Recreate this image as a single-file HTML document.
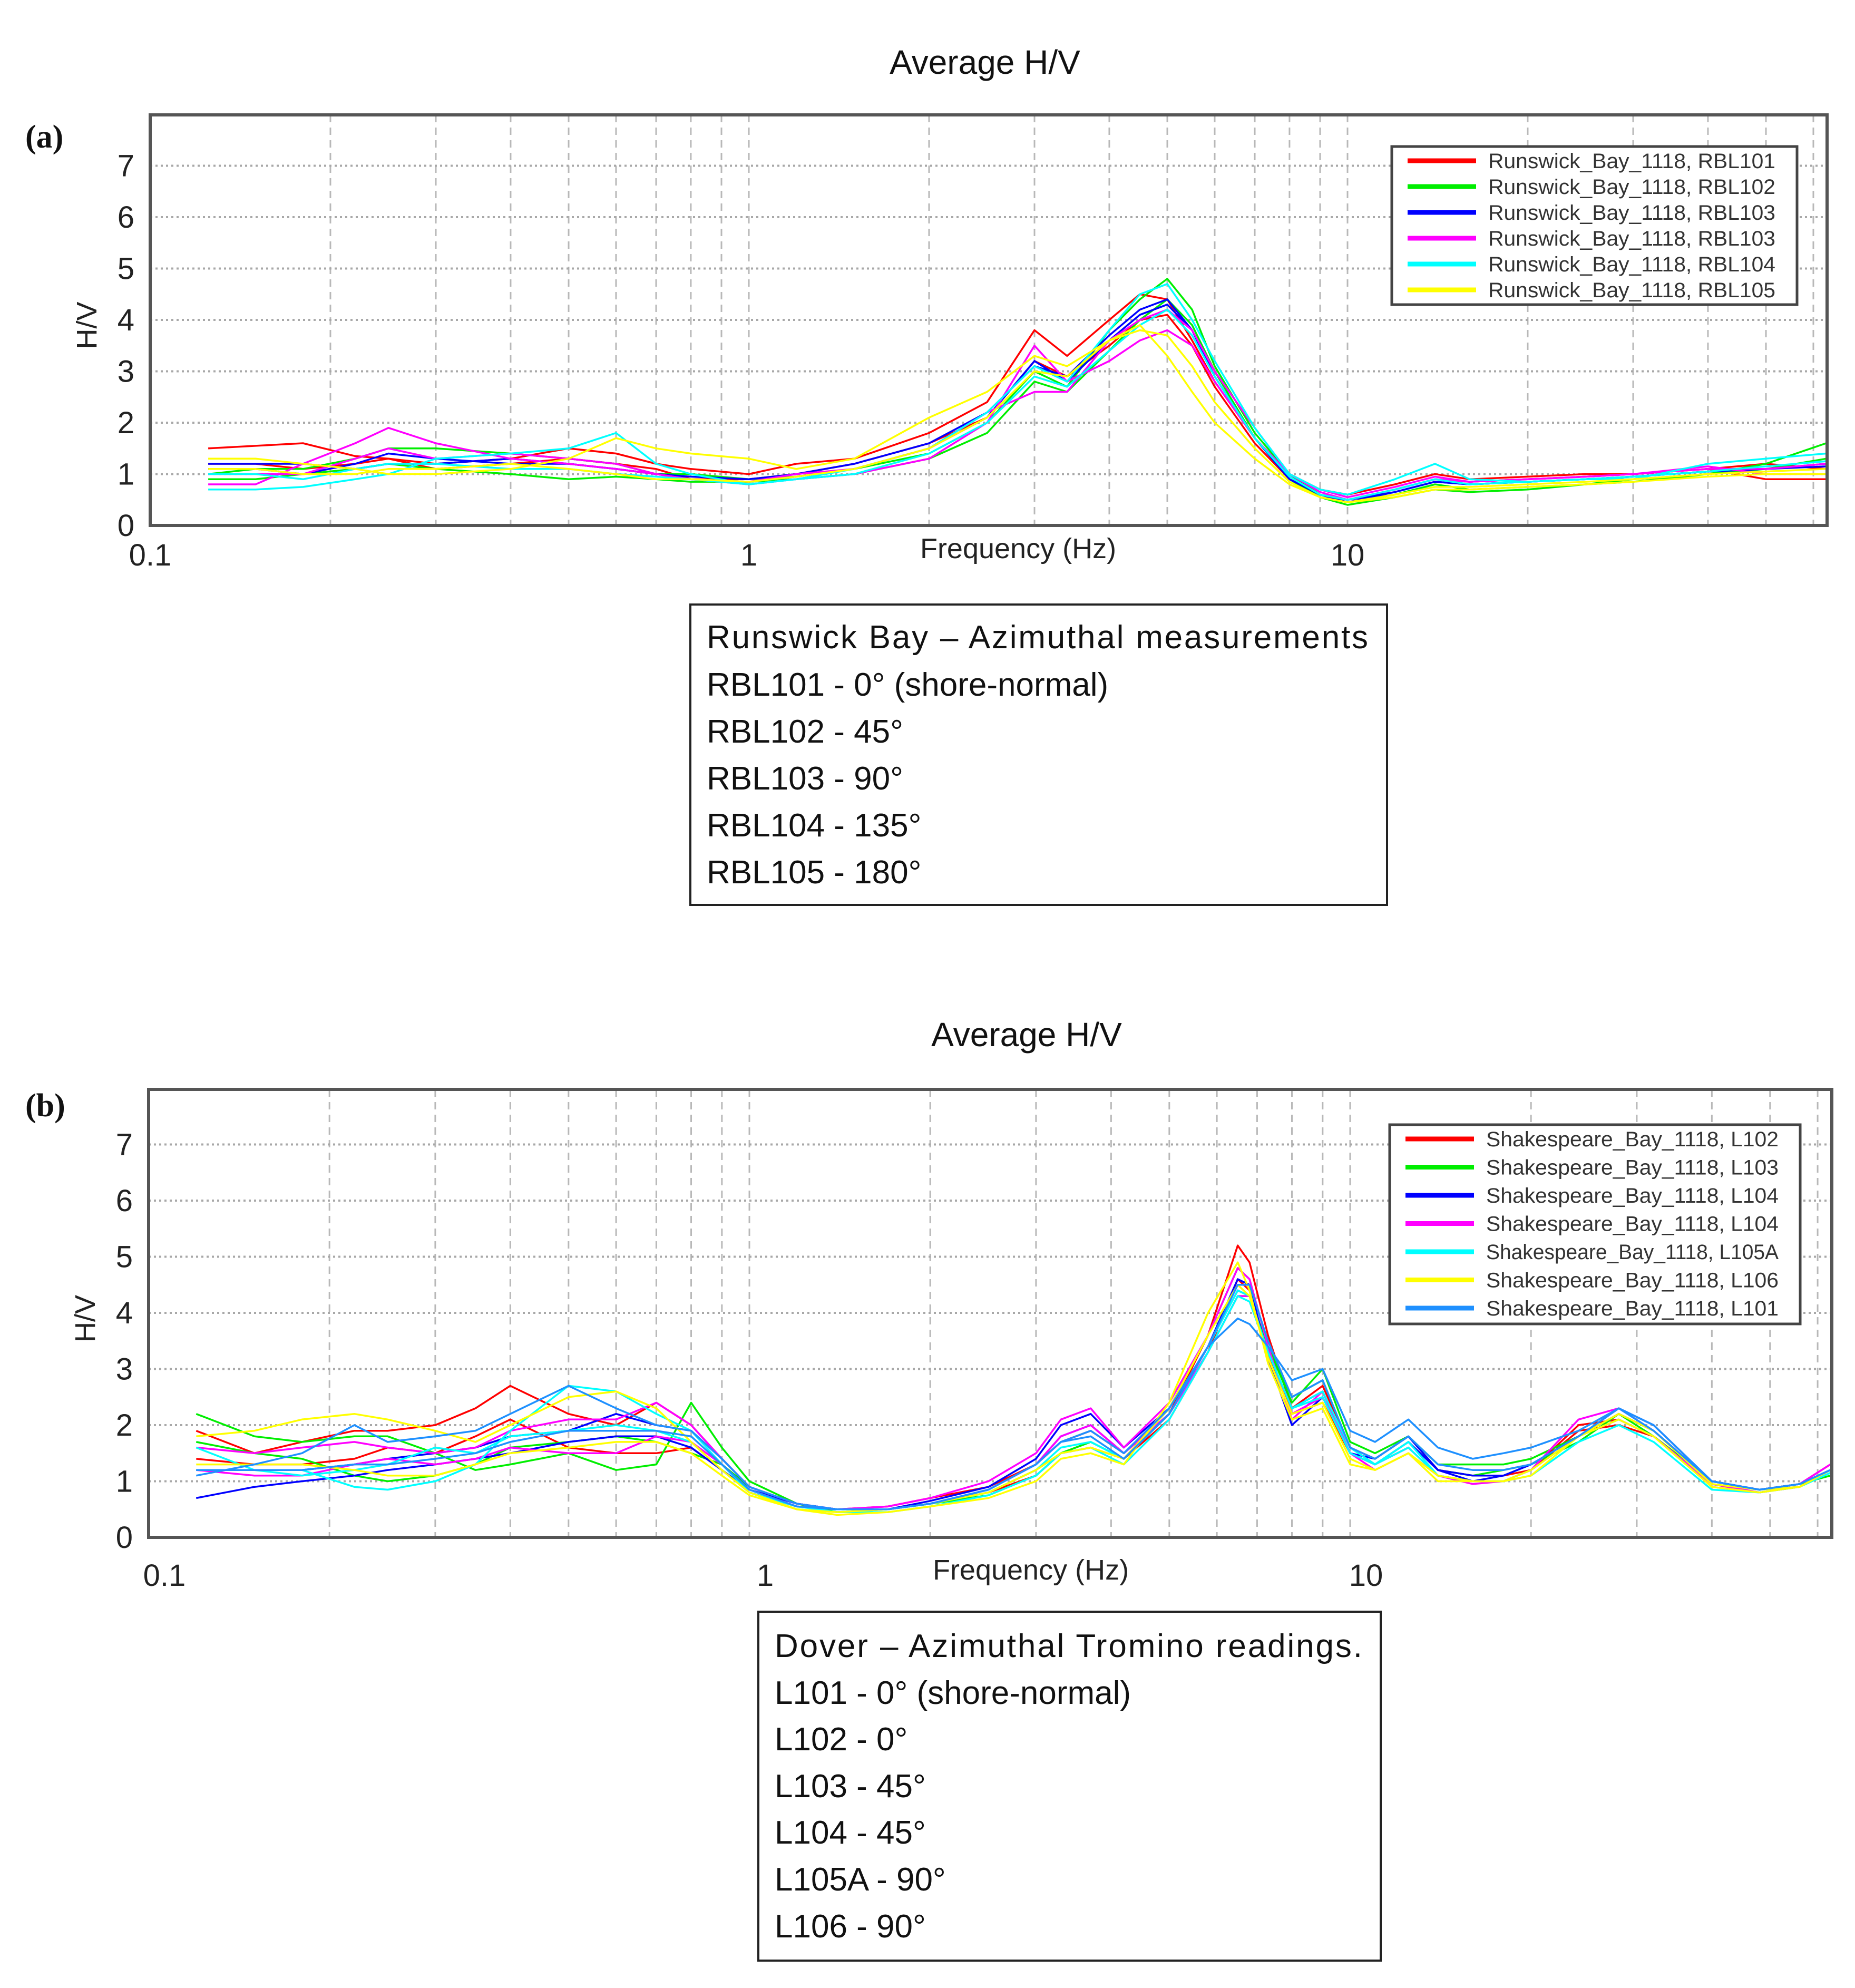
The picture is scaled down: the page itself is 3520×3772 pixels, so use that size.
<!DOCTYPE html>
<html><head><meta charset="utf-8"><title>Average H/V</title>
<style>
html,body{margin:0;padding:0;background:#fff;}
svg{display:block;font-family:"Liberation Sans",sans-serif;}
</style></head>
<body>
<svg id="fig" width="3520" height="3772" viewBox="0 0 3520 3772" xmlns="http://www.w3.org/2000/svg">
<rect x="0" y="0" width="3520" height="3772" fill="#fff"/>
<text x="1869" y="140" font-size="64" text-anchor="middle" fill="#111">Average H/V</text>
<text x="1948" y="1985" font-size="64" text-anchor="middle" fill="#111">Average H/V</text>
<text x="48" y="280" font-size="62" font-weight="bold" font-family="Liberation Serif,serif" fill="#111">(a)</text>
<text x="48" y="2118" font-size="62" font-weight="bold" font-family="Liberation Serif,serif" fill="#111">(b)</text>
<g id="pa"></g>
<g id="pb"></g>
<g>
<rect x="1310" y="1147" width="1322" height="570" fill="#fff" stroke="#222" stroke-width="4"/>
<text font-size="62" fill="#111">
<tspan x="1341" y="1230" textLength="1255">Runswick Bay – Azimuthal measurements</tspan>
<tspan x="1341" y="1320">RBL101 - 0° (shore-normal)</tspan>
<tspan x="1341" y="1409">RBL102 - 45°</tspan>
<tspan x="1341" y="1498">RBL103 - 90°</tspan>
<tspan x="1341" y="1587">RBL104 - 135°</tspan>
<tspan x="1341" y="1676">RBL105 - 180°</tspan>
</text></g>
<g>
<rect x="1439" y="3058" width="1181" height="662" fill="#fff" stroke="#222" stroke-width="4"/>
<text font-size="62" fill="#111">
<tspan x="1470" y="3144" textLength="1115">Dover – Azimuthal Tromino readings.</tspan>
<tspan x="1470" y="3233">L101 - 0° (shore-normal)</tspan>
<tspan x="1470" y="3321">L102 - 0°</tspan>
<tspan x="1470" y="3410">L103 - 45°</tspan>
<tspan x="1470" y="3498">L104 - 45°</tspan>
<tspan x="1470" y="3587">L105A - 90°</tspan>
<tspan x="1470" y="3676">L106 - 90°</tspan>
</text></g>
</svg>
<script>
const freqA = [0.125,0.15,0.18,0.22,0.25,0.3,0.4,0.5,0.6,0.7,0.8,1,1.2,1.5,2,2.5,3,3.4,4,4.5,5,5.5,6,7,8,9,10,12,14,16,20,25,30,40,50,63];
const colorsA = ['#ff0000','#ff0000','#00ee00','#00ee00','#0000ff','#0000ff','#ff00ff','#ff00ff','#00ffff','#00ffff','#ffff00','#ffff00'];
const serA0 = [1.5,1.55,1.6,1.35,1.3,1.2,1.3,1.5,1.4,1.2,1.1,1.0,1.2,1.3,1.8,2.4,3.8,3.3,4.0,4.5,4.4,3.6,2.8,1.7,1.0,0.7,0.6,0.8,1.0,0.9,0.95,1.0,1.0,1.1,0.9,0.9];
const serA1 = [1.2,1.2,1.1,1.2,1.3,1.1,1.2,1.3,1.2,1.1,0.9,0.9,1.0,1.2,1.6,2.1,3.2,2.9,3.5,4.0,4.1,3.5,2.7,1.6,0.9,0.6,0.5,0.7,0.9,0.85,0.9,0.95,1.0,1.1,1.2,1.1];
const serA2 = [1.0,1.1,1.1,1.3,1.5,1.5,1.4,1.3,1.2,1.0,1.0,0.9,0.95,1.1,1.4,2.0,3.0,2.7,3.8,4.4,4.8,4.2,3.1,1.8,1.0,0.6,0.45,0.6,0.8,0.7,0.75,0.8,0.9,1.0,1.2,1.6];
const serA3 = [0.9,0.9,1.0,1.1,1.2,1.1,1.0,0.9,0.95,0.9,0.85,0.85,0.9,1.0,1.3,1.8,2.8,2.6,3.4,4.0,4.4,3.9,3.0,1.7,0.9,0.55,0.4,0.55,0.7,0.65,0.7,0.8,0.85,1.0,1.1,1.3];
const serA4 = [1.1,1.1,1.0,1.2,1.4,1.3,1.2,1.2,1.1,1.0,0.9,0.85,0.95,1.1,1.5,2.1,3.2,2.8,3.6,4.1,4.3,3.8,2.9,1.7,0.9,0.6,0.45,0.65,0.85,0.8,0.85,0.9,0.95,1.05,1.1,1.2];
const serA5 = [1.2,1.2,1.2,1.1,1.2,1.2,1.3,1.2,1.1,1.0,0.95,0.9,1.0,1.2,1.6,2.2,3.1,2.9,3.7,4.2,4.4,3.8,2.9,1.7,0.95,0.6,0.5,0.65,0.85,0.8,0.85,0.9,0.95,1.05,1.1,1.15];
const serA6 = [0.8,0.8,1.2,1.6,1.9,1.6,1.3,1.2,1.1,1.0,0.9,0.8,0.9,1.0,1.3,2.0,3.5,2.8,3.2,3.6,3.8,3.5,2.8,1.7,1.0,0.7,0.55,0.75,0.95,0.85,0.9,0.95,1.0,1.1,1.1,1.2];
const serA7 = [1.0,1.0,1.0,1.3,1.5,1.3,1.4,1.3,1.2,1.0,0.9,0.85,1.0,1.1,1.5,2.2,2.6,2.6,3.6,4.0,4.2,3.8,3.0,1.9,1.0,0.65,0.5,0.7,0.9,0.85,0.9,0.95,1.0,1.15,1.0,1.0];
const serA8 = [0.7,0.7,0.75,0.9,1.0,1.3,1.4,1.5,1.8,1.2,1.0,0.8,0.9,1.1,1.5,2.2,3.1,2.8,3.8,4.5,4.7,4.0,3.2,1.9,1.0,0.7,0.6,0.9,1.2,0.9,0.85,0.9,0.9,1.2,1.3,1.4];
const serA9 = [1.0,1.0,0.9,1.1,1.2,1.2,1.1,1.1,1.0,0.95,0.9,0.8,0.9,1.0,1.4,2.0,2.9,2.7,3.4,3.9,4.2,3.7,2.9,1.7,0.95,0.6,0.5,0.7,0.9,0.8,0.85,0.9,0.95,1.05,1.15,1.25];
const serA10 = [1.3,1.3,1.2,1.1,1.0,1.0,1.1,1.3,1.7,1.5,1.4,1.3,1.1,1.3,2.1,2.6,3.3,3.1,3.6,3.9,3.3,2.6,2.0,1.3,0.8,0.55,0.45,0.55,0.7,0.7,0.75,0.8,0.85,0.95,1.0,1.0];
const serA11 = [1.1,1.1,1.0,1.0,1.1,1.1,1.2,1.1,1.0,0.9,0.9,0.85,0.95,1.1,1.5,2.1,3.0,2.9,3.6,3.8,3.7,3.1,2.4,1.5,0.85,0.55,0.45,0.6,0.75,0.75,0.8,0.85,0.9,1.0,1.05,1.1];
const seriesA = [serA0,serA1,serA2,serA3,serA4,serA5,serA6,serA7,serA8,serA9,serA10,serA11];
const legendA = ['Runswick_Bay_1118, RBL101','Runswick_Bay_1118, RBL102','Runswick_Bay_1118, RBL103','Runswick_Bay_1118, RBL103','Runswick_Bay_1118, RBL104','Runswick_Bay_1118, RBL105'];
const legendColorsA = ['#ff0000','#00ee00','#0000ff','#ff00ff','#00ffff','#ffff00'];

const freqB = [0.12,0.15,0.18,0.22,0.25,0.3,0.35,0.4,0.5,0.6,0.7,0.8,0.9,1.0,1.2,1.4,1.7,2,2.5,3,3.3,3.7,4.2,5,5.8,6.5,6.8,7.3,8,9,10,11,12.5,14,16,18,20,24,28,32,40,48,56,63];
const colorsB = ['#ff0000','#ff0000','#00ee00','#00ee00','#0000ff','#0000ff','#ff00ff','#ff00ff','#00ffff','#00ffff','#ffff00','#ffff00','#1e90ff','#1e90ff'];
const serB0 = [1.9,1.5,1.7,1.9,1.9,2.0,2.3,2.7,2.2,2.0,2.4,2.0,1.4,0.9,0.6,0.5,0.55,0.7,0.9,1.3,1.7,1.9,1.5,2.2,3.6,5.2,4.9,3.6,2.3,2.7,1.6,1.4,1.8,1.2,1.1,1.1,1.2,1.9,2.0,1.8,1.0,0.85,0.95,1.3];
const serB1 = [1.4,1.3,1.3,1.4,1.6,1.5,1.8,2.1,1.6,1.5,1.5,1.6,1.2,0.8,0.55,0.5,0.5,0.6,0.8,1.1,1.5,1.6,1.4,2.1,3.3,4.6,4.4,3.3,2.2,2.4,1.5,1.3,1.6,1.1,1.0,1.0,1.2,2.0,2.1,1.8,0.95,0.8,0.9,1.2];
const serB2 = [2.2,1.8,1.7,1.8,1.8,1.5,1.2,1.3,1.5,1.2,1.3,2.4,1.6,1.0,0.6,0.45,0.5,0.6,0.75,1.1,1.5,1.7,1.4,2.3,3.6,4.8,4.6,3.4,2.4,3.0,1.7,1.5,1.8,1.3,1.3,1.3,1.4,1.8,2.2,1.9,1.0,0.85,0.95,1.2];
const serB3 = [1.7,1.5,1.4,1.1,1.0,1.1,1.3,1.6,1.7,1.8,1.7,1.5,1.3,0.9,0.6,0.5,0.5,0.6,0.8,1.2,1.5,1.7,1.4,2.2,3.3,4.3,4.3,3.4,2.5,2.8,1.6,1.3,1.7,1.2,1.1,1.2,1.3,1.7,2.2,1.8,1.0,0.85,0.95,1.1];
const serB4 = [0.7,0.9,1.0,1.1,1.2,1.3,1.4,1.5,1.7,1.8,1.8,1.6,1.2,0.85,0.6,0.5,0.5,0.65,0.9,1.4,2.0,2.2,1.6,2.3,3.4,4.6,4.5,3.2,2.0,2.5,1.5,1.4,1.8,1.2,1.0,1.1,1.3,1.8,2.3,2.0,1.0,0.85,0.95,1.2];
const serB5 = [1.2,1.2,1.2,1.3,1.4,1.5,1.6,1.8,1.9,2.2,2.0,1.9,1.4,0.9,0.6,0.5,0.5,0.6,0.85,1.3,1.8,2.0,1.5,2.2,3.4,4.4,4.3,3.3,2.3,2.6,1.5,1.3,1.7,1.2,1.1,1.1,1.3,1.8,2.2,1.9,1.0,0.85,0.9,1.2];
const serB6 = [1.6,1.5,1.6,1.7,1.6,1.5,1.6,1.9,2.1,2.1,2.4,2.0,1.4,0.9,0.6,0.5,0.55,0.7,1.0,1.5,2.1,2.3,1.6,2.4,3.6,4.8,4.6,3.4,2.1,2.6,1.5,1.3,1.6,1.1,1.0,1.0,1.2,2.1,2.3,1.9,1.0,0.85,0.95,1.3];
const serB7 = [1.2,1.1,1.1,1.3,1.4,1.3,1.4,1.6,1.5,1.5,1.8,1.7,1.3,0.85,0.55,0.5,0.5,0.6,0.85,1.3,1.8,2.0,1.5,2.2,3.3,4.3,4.3,3.2,2.2,2.5,1.5,1.2,1.5,1.1,0.95,1.0,1.2,1.8,2.1,1.8,0.95,0.8,0.9,1.2];
const serB8 = [1.6,1.2,1.2,0.9,0.85,1.0,1.3,1.9,2.7,2.6,2.2,1.9,1.3,0.8,0.5,0.45,0.45,0.55,0.75,1.1,1.5,1.6,1.3,2.1,3.3,4.3,4.2,3.3,2.3,2.6,1.6,1.3,1.7,1.1,1.0,1.0,1.1,1.7,2.0,1.7,0.85,0.8,0.9,1.15];
const serB9 = [1.2,1.2,1.1,1.2,1.3,1.6,1.5,1.8,1.9,2.0,1.9,1.7,1.2,0.8,0.55,0.45,0.5,0.6,0.8,1.2,1.6,1.7,1.4,2.2,3.4,4.4,4.3,3.3,2.3,2.5,1.5,1.3,1.6,1.1,1.0,1.0,1.2,1.8,2.1,1.8,0.9,0.8,0.9,1.2];
const serB10 = [1.8,1.9,2.1,2.2,2.1,1.9,1.7,2.0,2.5,2.6,2.3,1.7,1.2,0.8,0.5,0.4,0.45,0.55,0.7,1.0,1.4,1.5,1.3,2.4,4.0,4.9,4.4,3.1,2.1,2.3,1.3,1.2,1.5,1.0,1.0,1.0,1.1,1.8,2.2,1.9,0.95,0.85,0.9,1.2];
const serB11 = [1.3,1.3,1.3,1.2,1.1,1.1,1.3,1.5,1.6,1.7,1.7,1.5,1.1,0.75,0.5,0.45,0.5,0.6,0.8,1.2,1.5,1.6,1.4,2.3,3.6,4.5,4.3,3.2,2.2,2.4,1.4,1.2,1.5,1.1,1.0,1.0,1.2,1.8,2.1,1.8,0.9,0.8,0.9,1.2];
const serB12 = [1.1,1.3,1.5,2.0,1.7,1.8,1.9,2.2,2.7,2.3,2.0,1.9,1.4,0.9,0.6,0.5,0.5,0.6,0.85,1.3,1.7,1.9,1.5,2.3,3.4,3.9,3.8,3.4,2.8,3.0,1.9,1.7,2.1,1.6,1.4,1.5,1.6,1.9,2.3,1.9,1.0,0.85,0.95,1.2];
const serB13 = [1.2,1.2,1.2,1.3,1.3,1.4,1.5,1.7,1.9,1.9,1.9,1.8,1.3,0.85,0.55,0.5,0.5,0.6,0.85,1.3,1.7,1.8,1.4,2.2,3.4,4.5,4.5,3.5,2.5,2.8,1.6,1.4,1.8,1.3,1.2,1.2,1.3,1.8,2.3,2.0,1.0,0.85,0.95,1.2];
const seriesB = [serB0,serB1,serB2,serB3,serB4,serB5,serB6,serB7,serB8,serB9,serB10,serB11,serB12,serB13];
const legendB = ['Shakespeare_Bay_1118, L102','Shakespeare_Bay_1118, L103','Shakespeare_Bay_1118, L104','Shakespeare_Bay_1118, L104','Shakespeare_Bay_1118, L105A','Shakespeare_Bay_1118, L106','Shakespeare_Bay_1118, L101'];
const legendColorsB = ['#ff0000','#00ee00','#0000ff','#ff00ff','#00ffff','#ffff00','#1e90ff'];

const yTicks = [0,1,2,3,4,5,6,7];
const xTickLabels = ['0.1','1','10'];
const xTickValues = [0.1,1,10];

const NS = 'http://www.w3.org/2000/svg';
function mk(tag, attrs, parent){const e=document.createElementNS(NS,tag);for(const k in attrs)e.setAttribute(k,attrs[k]);parent.appendChild(e);return e;}

function drawPanel(g, cfg, freqs, series, colors, legendLabels, legendColors){
  const xs = f => cfg.x0 + (Math.log10(f)+1)*cfg.dec;
  const ys = v => cfg.y0 - v*cfg.unit;
  for (const base of [0.1,1,10]) for (let m=1;m<=9;m++){
    const f=base*m, x=xs(f);
    if (x<=cfg.x0+2 || x>=cfg.x1-2) continue;
    const l=mk('line',{x1:x,y1:cfg.top,x2:x,y2:cfg.y0,stroke:'#b8b8b8','stroke-width':3,'stroke-dasharray':'14 10'},g);
    
    
  }
  for (const v of yTicks){ if(v===0) continue;
    const l=mk('line',{x1:cfg.x0,y1:ys(v),x2:cfg.x1,y2:ys(v),stroke:'#a8a8a8','stroke-width':4,'stroke-dasharray':'4 6'},g);
    
    
  }
  series.forEach((s,i)=>{
    const d = s.map((v,j)=>(j?'L':'M')+xs(freqs[j]).toFixed(1)+','+ys(v).toFixed(1)).join('');
    const p=mk('path',{d:d,fill:'none',stroke:colors[i],'stroke-width':3.5,'stroke-linejoin':'round'},g);
    
    
  });
  const fr=mk('rect',{x:cfg.x0,y:cfg.top,width:cfg.x1-cfg.x0,height:cfg.y0-cfg.top,fill:'none',stroke:'#555','stroke-width':6},g);
  
  
  yTicks.forEach(v=>{
    const t=mk('text',{x:cfg.x0-30,y:ys(v)+20,'font-size':58,'text-anchor':'end',fill:'#222'},g);
    t.textContent=v;
    
    
  });
  xTickValues.forEach((f,i)=>{
    const t=mk('text',{x:xs(f)+cfg.xlOff,y:cfg.y0+cfg.xlDy,'font-size':58,'text-anchor':'middle',fill:'#222'},g);
    t.textContent=xTickLabels[i];
    
    
  });
  const xt=mk('text',{x:cfg.xtX,y:cfg.y0+cfg.xtDy,'font-size':54,'text-anchor':'middle',fill:'#222'},g);
  xt.textContent='Frequency (Hz)';
  
  
  const yc=(cfg.top+cfg.y0)/2+10;
  const yt=mk('text',{x:0,y:0,'font-size':54,'text-anchor':'middle',fill:'#222',transform:`translate(${cfg.x0-102},${yc}) rotate(-90)`},g);
  yt.textContent='H/V';
  
  
  const L=cfg.leg;
  const lb=mk('rect',{x:L.x,y:L.y,width:L.w,height:L.h,fill:'#fff',stroke:'#444','stroke-width':5},g);
  
  
  legendLabels.forEach((lab,i)=>{
    const yy=L.y+L.first+i*L.step;
    const ln=mk('line',{x1:L.x+30,y1:yy,x2:L.x+160,y2:yy,stroke:legendColors[i],'stroke-width':9},g);
    
    
    const t=mk('text',{x:L.x+183,y:yy+14,'font-size':40,fill:'#333',textLength:L.tl,lengthAdjust:'spacingAndGlyphs'},g);
    t.textContent=lab;
    
    
  });
}

drawPanel(document.getElementById('pa'),
  {x0:285,x1:3467,top:218,y0:997,unit:97.5,dec:1136,xlOff:0,xlDy:76,xtX:1932,xtDy:62,
   leg:{x:2641,y:278,w:769,h:300,first:27,step:49,tl:545}},
  freqA, seriesA, colorsA, legendA, legendColorsA);
drawPanel(document.getElementById('pb'),
  {x0:282,x1:3476,top:2067,y0:2917,unit:106.5,dec:1140,xlOff:30,xlDy:92,xtX:1956,xtDy:80,
   leg:{x:2637,y:2134,w:779,h:378,first:27,step:53.5,tl:555}},
  freqB, seriesB, colorsB, legendB, legendColorsB);
</script>
</body></html>
